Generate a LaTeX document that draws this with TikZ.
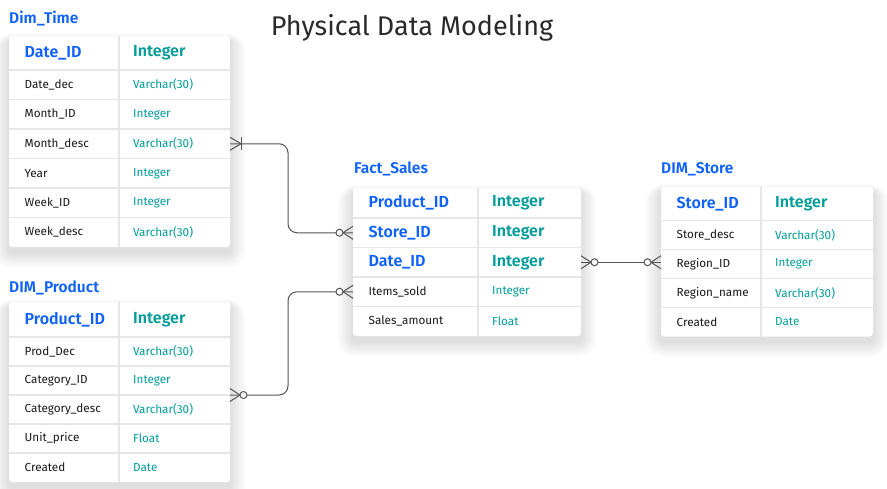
\documentclass[tikz,border=0pt]{standalone}
\usepackage{fontspec}
\setmainfont{Fira Sans}[BoldFont={Fira Sans SemiBold}]
\usetikzlibrary{calc}
\definecolor{keyblue}{HTML}{0F62FE}
\definecolor{typeteal}{HTML}{009D9A}
\definecolor{rowline}{HTML}{E6E6E6}
\definecolor{linkgray}{HTML}{555555}
\definecolor{titlegray}{HTML}{2A2A2A}
\tikzset{
  tbltitle/.style={anchor=base west, inner sep=0pt, text=keyblue, font=\fontsize{15.5}{15.5}\selectfont\bfseries},
  keyb/.style={anchor=west, inner sep=0pt, text=keyblue, font=\fontsize{16}{16}\selectfont\bfseries},
  typeb/.style={anchor=west, inner sep=0pt, text=typeteal, font=\fontsize{16}{16}\selectfont\bfseries},
  keys/.style={anchor=west, inner sep=0pt, text=black!90, font=\fontsize{11.7}{11.7}\selectfont},
  types/.style={anchor=west, inner sep=0pt, text=typeteal, font=\fontsize{11.7}{11.7}\selectfont},
  rowbox/.style={anchor=north west, inner sep=0pt, outer sep=0pt},
  sepline/.style={draw=rowline, line width=1.3pt},
  link/.style={draw=linkgray, line width=1pt},
}
% #1 name, #2 x, #3 y, #4 width, #5 divider offset, #6 header height, #7 row height, #8 number of rows, #9 rows
\newcommand\ertable[9]{%
  \pgfmathsetmacro\tblH{#6+(#8-1)*#7}%
  \foreach \s in {1,...,16}{%
    \fill[black, opacity=0.006, rounded corners={3+\s}] ({#2-\s},{#3-0.4*\s+4}) rectangle ({#2+#4+\s},{#3+\tblH+\s+5});
  }%
  \fill[white, rounded corners=3pt] (#2,#3) rectangle ({#2+#4},{#3+\tblH});
  \foreach \k/\t/\st [count=\i] in {#9}{%
    \pgfmathsetmacro\rt{\i==1 ? #3 : #3+#6+(\i-2)*#7}%
    \pgfmathsetmacro\rh{\i==1 ? #6 : #7}%
    \node[rowbox, minimum width=#4pt, minimum height=\rh pt] (#1-\i) at (#2,\rt) {};
    \ifnum\i>1 \draw[sepline] (#1-\i.north west) -- (#1-\i.north east);\fi
    \node[key\st] at ($(#1-\i.west)+(15.5,0)$) {\k};
    \node[type\st] at ($(#1-\i.west)+(#5+14,0)$) {\t};
  }%
  \draw[sepline] ({#2+#5},#3) -- ({#2+#5},{#3+\tblH});
}
\newcommand\zeromany[2]{% #1 coordinate at table edge, #2 direction (+1 right, -1 left)
  \draw[link] ($(#1)+(0,-6.5)$) -- ($(#1)+({(#2)*10},0)$) -- ($(#1)+(0,6.5)$);
  \draw[link, fill=white] ($(#1)+({(#2)*13.5},0)$) circle[radius=3.5pt];
}
\newcommand\onemany[2]{%
  \draw[link] ($(#1)+(0,-6.5)$) -- ($(#1)+({(#2)*11},0)$) -- ($(#1)+(0,6.5)$);
  \draw[link] ($(#1)+({(#2)*11},-6.5)$) -- ($(#1)+({(#2)*11},6.5)$);
}
\begin{document}
\begin{tikzpicture}[x=1pt, y=-1pt]
\useasboundingbox (0,0) rectangle (887,488);
\fill[white] (0,0) rectangle (887,488);
\node[anchor=base, inner sep=0pt, text=titlegray, font=\fontsize{27}{27}\selectfont] (title) at (412,35) {Physical Data Modeling};

\node[tbltitle] (t-time) at (9,23) {Dim\_Time};
\ertable{time}{9}{36}{221}{110}{34}{29.5}{7}{Date\_ID/Integer/b, Date\_dec/Varchar(30)/s, Month\_ID/Integer/s, Month\_desc/Varchar(30)/s, Year/Integer/s, Week\_ID/Integer/s, Week\_desc/Varchar(30)/s}

\node[tbltitle] (t-prod) at (9,292) {DIM\_Product};
\ertable{prod}{9}{302}{221}{110}{35}{29}{6}{Product\_ID/Integer/b, Prod\_Dec/Varchar(30)/s, Category\_ID/Integer/s, Category\_desc/Varchar(30)/s, Unit\_price/Float/s, Created/Date/s}

\node[tbltitle] (t-fact) at (354,173) {Fact\_Sales};
\ertable{fact}{353}{188}{228}{125}{30}{29.5}{5}{Product\_ID/Integer/b, Store\_ID/Integer/b, Date\_ID/Integer/b, Items\_sold/Integer/s, Sales\_amount/Float/s}

\node[tbltitle] (t-store) at (661,173) {DIM\_Store};
\ertable{store}{661}{187}{212}{100}{33.5}{29}{5}{Store\_ID/Integer/b, Store\_desc/Varchar(30)/s, Region\_ID/Integer/s, Region\_name/Varchar(30)/s, Created/Date/s}

% connectors
\coordinate (c1a) at (time-4.east);
\coordinate (c1b) at (fact-2.west);
\coordinate (c2a) at (prod-4.north east);
\coordinate (c2b) at (fact-4.west);
\coordinate (c3a) at (fact-3.east);
\coordinate (c3b) at (fact-3.east -| store-3.west);

\draw[link, rounded corners=9pt] (c1a) -- (c1a -| 288,0) -- (c1b -| 288,0) -- (c1b);
\draw[link, rounded corners=9pt] (c2a) -- (c2a -| 288,0) -- (c2b -| 288,0) -- (c2b);
\draw[link] (c3a) -- (c3b);

\onemany{c1a}{1}
\zeromany{c1b}{-1}
\zeromany{c2a}{1}
\zeromany{c2b}{-1}
\zeromany{c3a}{1}
\zeromany{c3b}{-1}
\end{tikzpicture}
\end{document}
